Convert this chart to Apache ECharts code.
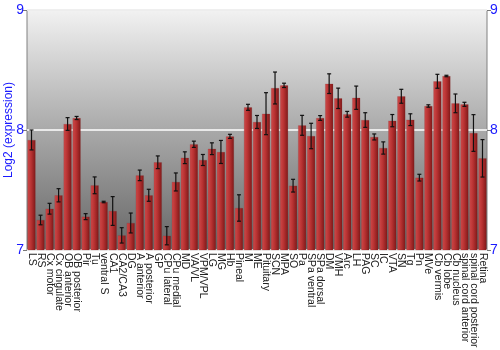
<!DOCTYPE html>
<html><head><meta charset="utf-8">
<script src="https://cdn.jsdelivr.net/npm/echarts@6/dist/echarts.min.js"></script>
<style>html,body{margin:0;padding:0;background:#fff}#c{width:500px;height:350px}</style>
</head><body><div id="c"></div>
<script>
var categories = ["LS","RS","Cx motor","Cx cingulate","OB anterior","OB posterior","Pir","Tu","ventral S","CA1","CA2/CA3","DG","A anterior","A posterior","GP","CPu lateral","CPu medial","MD","VA/VL","VPM/VPL","LG","MG","Hb","Pineal","M","ME","Pituitary","SCN","MPA","SO","Pa","SPa ventral","SPa dorsal","DM","VMH","Arc","LH","PAG","SC","IC","VTA","SN","Tg","Pn","MVe","Cb vermis","Cb lobe","Cb nucleus","spinal cord anterior","spinal cord posterior","Retina"];
var values = [7.917,7.25,7.344,7.456,8.05,8.1,7.278,7.539,7.4,7.325,7.122,7.225,7.622,7.456,7.731,7.119,7.567,7.769,7.881,7.75,7.844,7.817,7.947,7.35,8.189,8.067,8.136,8.35,8.372,7.536,8.039,7.95,8.1,8.386,8.264,8.131,8.269,8.083,7.942,7.85,8.078,8.281,8.086,7.603,8.2,8.406,8.45,8.222,8.214,7.975,7.764];
var errors = [0.083,0.04,0.045,0.055,0.053,0.013,0.025,0.07,0.006,0.12,0.064,0.083,0.044,0.05,0.053,0.076,0.075,0.049,0.026,0.046,0.049,0.096,0.017,0.11,0.025,0.054,0.175,0.133,0.018,0.053,0.083,0.106,0.02,0.082,0.085,0.024,0.097,0.061,0.025,0.051,0.051,0.058,0.049,0.028,0.01,0.058,0.006,0.078,0.017,0.153,0.156];
var yTicks = [7, 8, 9];

var errData = values.map(function(v, i){ return [i, v - errors[i], v + errors[i]]; });
var chart = echarts.init(document.getElementById('c'), null, {renderer:'canvas'});
var blue = '#1a1aff';
var yAxisBase = function(pos){
  return {
    type:'value', position:pos, min:yTicks[0], max:yTicks[yTicks.length-1], interval:1,
    axisLine:{show:false},
    axisTick:{show:true, length:4, lineStyle:{color:'#777'}},
    axisLabel:{color:blue, fontSize:14, fontFamily:'Liberation Sans, Arial, sans-serif', margin:3},
    splitLine:{show: pos==='left', lineStyle:{color:'#ffffff', width:1.5}}
  };
};
var leftAxis = yAxisBase('left');
leftAxis.name = 'Log2 (expression)';
leftAxis.nameLocation = 'middle';
leftAxis.nameGap = 12;
leftAxis.nameRotate = 90;
leftAxis.nameMoveOverlap = false;
leftAxis.nameTextStyle = {color:blue, fontSize:12, fontFamily:'Liberation Sans, Arial, sans-serif'};
var rightAxis = yAxisBase('right');

chart.setOption({
  animation:false,
  grid:{left:27, right:13, top:10, bottom:100, containLabel:false, outerBoundsMode:'none', show:true, borderColor:'#808080', borderWidth:1,
    backgroundColor:new echarts.graphic.LinearGradient(0,0,0,1,[{offset:0,color:'#f2f2f2'},{offset:0.5,color:'#a9a9a9'},{offset:1,color:'#666666'}])},
  xAxis:{type:'category', data:categories,
    axisLine:{show:false}, axisTick:{show:false},
    axisLabel:{rotate:-90, interval:0, hideOverlap:false, align:'left', verticalAlign:'middle', color:'#222', fontSize:10.5, fontFamily:'Liberation Sans, Arial, sans-serif', margin:3}},
  yAxis:[leftAxis, rightAxis],
  series:[
    {type:'bar', data:values, barCategoryGap:'10%',
      itemStyle:{color:new echarts.graphic.LinearGradient(0,0,1,0,[{offset:0,color:'#cf4a4a'},{offset:0.45,color:'#b83232'},{offset:1,color:'#7e1818'}]),
        borderColor:'rgba(120,40,40,0.35)', borderWidth:0.5}},
    {type:'custom', data:errData, z:10,
      renderItem:function(params, api){
        var x = api.value(0);
        var lo = api.coord([x, api.value(1)]);
        var hi = api.coord([x, api.value(2)]);
        var w = 2;
        var st = {stroke:'#111', lineWidth:1.2};
        return {type:'group', children:[
          {type:'line', shape:{x1:lo[0], y1:lo[1], x2:hi[0], y2:hi[1]}, style:st},
          {type:'line', shape:{x1:lo[0]-w, y1:lo[1], x2:lo[0]+w, y2:lo[1]}, style:st},
          {type:'line', shape:{x1:hi[0]-w, y1:hi[1], x2:hi[0]+w, y2:hi[1]}, style:st}
        ]};
      },
      encode:{x:0, y:[1,2]}}
  ]
});
</script></body></html>
